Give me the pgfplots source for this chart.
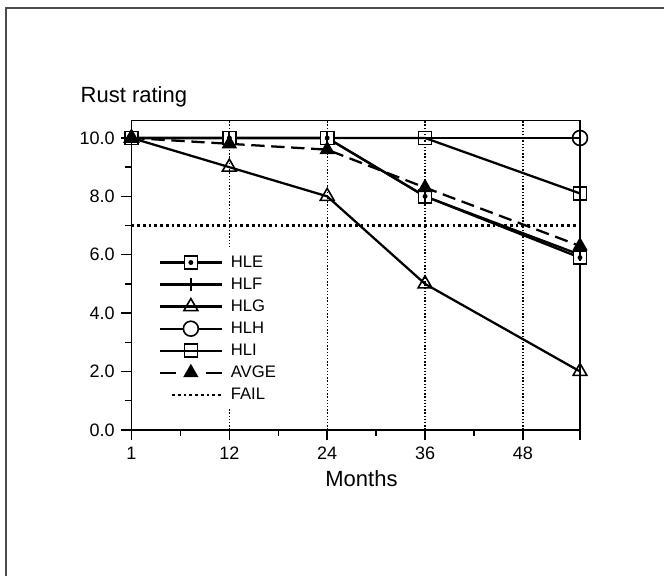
\documentclass[border=0pt]{standalone}
\usepackage{pgfplots}
\pgfplotsset{compat=1.18}
\usepackage{fontspec}
\setmainfont{Liberation Sans}
\pgfdeclareplotmark{sqdot}{%
  \pgfpathrectangle{\pgfqpoint{-\pgfplotmarksize}{-\pgfplotmarksize}}{\pgfqpoint{2\pgfplotmarksize}{2\pgfplotmarksize}}%
  \pgfusepathqfillstroke
  \begin{pgfscope}%
  \pgfsetfillcolor{black}%
  \pgfpathcircle{\pgfpointorigin}{0.38\pgfplotmarksize}%
  \pgfusepathqfill
  \end{pgfscope}}
\begin{document}
\begin{tikzpicture}[x=1pt,y=1pt]
\useasboundingbox (0,0) rectangle (498,432);
\draw[black!70, line width=0.8pt] (4.5,0) -- (4.5,426) -- (498,426);
\begin{axis}[
  at={(98.6pt,109.65pt)}, anchor=south west,
  scale only axis, width=336.4pt, height=232pt,
  xmin=0, xmax=55, ymin=0, ymax=10.6,
  xtick={0,12,24,36,48,55}, xticklabels={1,12,24,36,48,{}},
  minor xtick={6,18,30,42},
  ytick={0,2,4,6,8,10}, minor ytick={1,3,5,7,9},
  xtick pos=bottom, ytick pos=left,
  tick align=outside,
  major tick length=8pt, minor tick length=5pt,
  every tick/.style={black, line width=1.1pt},
  axis line style={line width=1.4pt},
  xmajorgrids, grid style={black, line width=1pt, dash pattern=on 1pt off 1.4pt},
  yticklabel style={xshift=-1pt, /pgf/number format/fixed, /pgf/number format/fixed zerofill, /pgf/number format/precision=1},
  /pgf/number format/assume math mode=true,
  ticklabel style={font=\fontsize{13.5}{15}\selectfont},
  xticklabel style={yshift=-1.5pt},
  xlabel={Months},
  xlabel style={font=\fontsize{16.5}{18}\selectfont, at={(rel axis cs:0.5,0)}, anchor=base, yshift=-42.2pt, xshift=4.3pt},
  ylabel={Rust rating},
  ylabel style={rotate=-90, font=\fontsize{16.5}{18}\selectfont, at={(rel axis cs:0,1)}, anchor=base west, xshift=-41.6pt, yshift=13.6pt},
  legend style={at={(rel axis cs:0.052,0.585)}, anchor=north west, draw=none, fill=white,
     font=\fontsize{12.5}{14}\selectfont, row sep=2.4pt, inner sep=3pt, cells={anchor=west},
     /tikz/every odd column/.append style={column sep=4pt}},
  legend image code/.code={\draw[mark repeat=2,mark phase=2] plot coordinates {(0pt,0pt)(23pt,0pt)(46pt,0pt)};},
]
\addplot[black, line width=1.7pt, mark=sqdot, mark size=4.9pt, mark options={fill=white, solid, line width=1.2pt}] coordinates {(0,10) (12,10) (24,10) (36,8) (55,5.9)};
\addlegendentry{HLE}
\addplot[black, line width=1.7pt, mark=|, mark size=5pt, mark options={solid, line width=1.4pt}] coordinates {(0,10) (12,10) (24,10) (36,8) (55,6.0)};
\addlegendentry{HLF}
\addplot[black, line width=1.7pt, mark=triangle, mark size=6pt, mark options={fill=white, solid, line width=1.2pt}] coordinates {(0,10) (12,9) (24,8) (36,5) (55,2)};
\addlegendentry{HLG}
\addplot[black, line width=1.7pt, mark=o, mark size=5.6pt, mark indices={5}, mark options={fill=white, solid, line width=1.2pt},
  legend image code/.code={\draw (0pt,0pt)--(46pt,0pt); \draw[fill=white, line width=1.2pt] (23pt,0pt) circle[radius=5.6pt];}] coordinates {(0,10) (12,10) (24,10) (36,10) (55,10)};
\addlegendentry{HLH}
\addplot[black, line width=1.7pt, mark=square, mark size=4.9pt, mark options={fill=white, solid, line width=1.2pt}] coordinates {(0,10) (12,10) (24,10) (36,10) (55,8.1)};
\addlegendentry{HLI}
\addplot[black, line width=1.7pt, dash pattern=on 10pt off 5pt, mark=triangle*, mark size=5pt, mark options={solid, fill=black},
  legend image code/.code={\draw[solid] (0pt,0pt)--(12pt,0pt); \draw[solid] (34pt,0pt)--(46pt,0pt); \draw[solid] plot[mark=triangle*, mark size=5pt] coordinates {(23pt,0pt)};}] coordinates {(0,10) (12,9.8) (24,9.6) (36,8.3) (55,6.3)};
\addlegendentry{AVGE}
\addplot[black, line width=2pt, dash pattern=on 2pt off 2.3pt, legend image code/.code={\draw (9pt,0pt)--(46pt,0pt);}] coordinates {(0,7) (55,7)};
\addlegendentry{FAIL}
\end{axis}
\end{tikzpicture}
\end{document}
